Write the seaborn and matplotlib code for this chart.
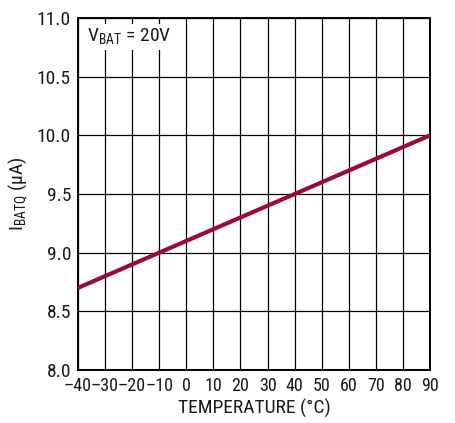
import matplotlib
matplotlib.use('Agg')
import matplotlib.pyplot as plt
from matplotlib import font_manager
import seaborn as sns
import pandas as pd

temps = [-40, -30, -20, -10, 0, 10, 20, 30, 40, 50, 60, 70, 80, 90]
ibatq = [8.7, 8.8, 8.9, 9.0, 9.1, 9.2, 9.3, 9.4, 9.5, 9.6, 9.7, 9.8, 9.9, 10.0]
xticks = [-40, -30, -20, -10, 0, 10, 20, 30, 40, 50, 60, 70, 80, 90]
yticks = [8.0, 8.5, 9.0, 9.5, 10.0, 10.5, 11.0]

# pick a narrow font if there is one
names = set(f.name for f in font_manager.fontManager.ttflist)
font = 'Liberation Sans'
narrow = False
for n in ['Liberation Sans Narrow', 'Roboto Condensed', 'Open Sans Condensed', 'Noto Sans Condensed']:
    if n in names:
        font = n
        narrow = True
        break

sns.set_style('white')
plt.rcParams['font.family'] = [font, 'DejaVu Sans']
plt.rcParams['mathtext.fontset'] = 'custom'
plt.rcParams['mathtext.rm'] = font
fs = 14 if narrow else 11.5
xfs = 13 if narrow else 11

d = pd.DataFrame({'temp': temps, 'i': ibatq})

fig = plt.figure(figsize=(4.55, 4.23), dpi=100)
ax = fig.add_axes([0.1714, 0.1253, 0.7736, 0.832])
sns.lineplot(data=d, x='temp', y='i', color='#980c36', lw=3, ax=ax, zorder=3)

ax.set_xlim(-40, 90)
ax.set_ylim(8.0, 11.0)
ax.set_xticks(xticks)
ax.set_xticklabels([str(t).replace('-', '\u2013') for t in xticks])
ax.set_yticks(yticks)
ax.set_yticklabels([f'{v:.1f}' for v in yticks])
ax.tick_params(length=0, labelsize=fs, pad=5, colors='#1a1a1a')
ax.tick_params(axis='x', labelsize=xfs)
ax.grid(True, color='black', lw=0.9)
for s in ax.spines.values():
    s.set_color('black')
    s.set_linewidth(1.4)

ax.set_xlabel('TEMPERATURE (°C)', fontsize=fs, color='#1a1a1a', labelpad=3)
ax.set_ylabel(r'I$_{\mathregular{BATQ}}$ (µA)', fontsize=fs, color='#1a1a1a', labelpad=5)

ax.text(0.025, 0.975, r'V$_{\mathregular{BAT}}$ = 20V', transform=ax.transAxes,
        fontsize=fs, va='top', ha='left', color='#1a1a1a',
        bbox=dict(facecolor='white', edgecolor='none', pad=2), zorder=4)

plt.savefig('out.png', dpi=100)
